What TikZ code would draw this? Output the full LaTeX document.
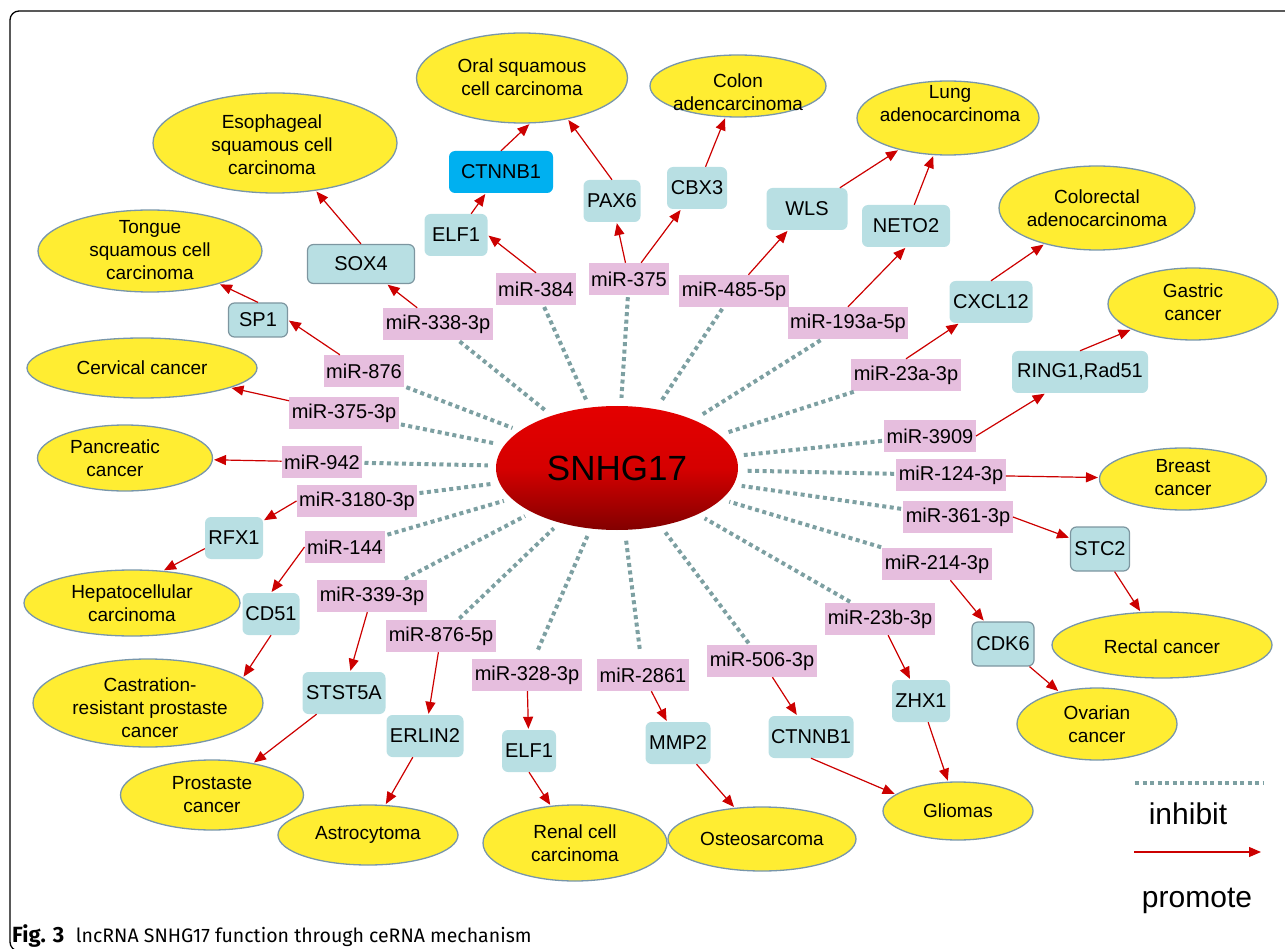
\documentclass[tikz,border=0pt]{standalone}
\usepackage{fontspec}
\setmainfont{Liberation Sans}
\newfontfamily\capfont{Fira Sans}
\usetikzlibrary{shapes.geometric,arrows.meta}
\definecolor{yellc}{RGB}{255,237,50}
\definecolor{ellb}{RGB}{120,150,170}
\definecolor{bluec}{RGB}{184,223,227}
\definecolor{brightb}{RGB}{0,176,240}
\definecolor{pinkc}{RGB}{230,190,222}
\definecolor{dotc}{RGB}{125,160,162}
\definecolor{redc}{RGB}{204,0,0}
\definecolor{gbord}{RGB}{125,150,160}
\definecolor{snhgtop}{RGB}{228,0,0}
\definecolor{snhgbot}{RGB}{130,0,0}
\begin{document}
\begin{tikzpicture}[x=1pt,y=-1pt,
 yell/.style={ellipse, fill=yellc, draw=ellb, line width=1.3pt, inner sep=0pt},
 etext/.style={align=center, font=\fontsize{19}{23}\selectfont, inner sep=0pt},
 mir/.style={fill=pinkc, inner xsep=2.5pt, inner ysep=0pt, minimum height=32pt, font=\fontsize{20}{24}\selectfont},
 gene/.style={fill=bluec, rounded corners=6pt, inner sep=0pt, minimum height=42pt, font=\fontsize{20}{24}\selectfont},
 geneb/.style={gene, draw=gbord, line width=1.2pt},
 inhib/.style={draw=dotc, line width=4pt, dash pattern=on 4pt off 3.5pt, shorten >=8pt, shorten <=2pt},
 prom/.style={draw=redc, line width=1.2pt, -{Triangle[length=12pt,width=10pt]}, shorten >=1pt},
]
\useasboundingbox (0,0) rectangle (1285,949);
\begin{scope}
\clip (0,0) rectangle (1285,949);
\draw[line width=1.3pt, rounded corners=9pt] (10,11) rectangle (1300,951);
\end{scope}

% central node
\node[ellipse, minimum width=242pt, minimum height=124pt, inner sep=0pt,
  top color=snhgtop, bottom color=snhgbot, middle color=snhgtop!85!snhgbot,
  font=\fontsize{35}{40}\selectfont] (snhg) at (617,468) {SNHG17};

% yellow disease ellipses
\node[yell, minimum width=211pt, minimum height=90pt] (oral) at (522,78) {};
\node[etext] (oral-t) at (522,77) {Oral squamous\\cell carcinoma};
\node[yell, minimum width=176pt, minimum height=62pt] (colon) at (738,86) {};
\node[etext] (colon-t) at (738,92) {Colon\\adencarcinoma};
\node[yell, minimum width=182pt, minimum height=74pt] (lung) at (948,118) {};
\node[etext] (lung-t) at (950,104) {Lung\\adenocarcinoma};
\node[yell, minimum width=196pt, minimum height=84pt] (colrec) at (1097,208) {};
\node[etext] (colrec-t) at (1097,208) {Colorectal\\adenocarcinoma};
\node[yell, minimum width=244pt, minimum height=100pt] (esoph) at (275,143) {};
\node[etext] (esoph-t) at (272,145) {Esophageal\\squamous cell\\carcinoma};
\node[yell, minimum width=224pt, minimum height=82pt] (tongue) at (150,251) {};
\node[etext] (tongue-t) at (150,250) {Tongue\\squamous cell\\carcinoma};
\node[yell, minimum width=230pt, minimum height=60pt] (cerv) at (142,368) {};
\node[etext] (cerv-t) at (142,368) {Cervical cancer};
\node[yell, minimum width=175pt, minimum height=66pt] (panc) at (125,458) {};
\node[etext] (panc-t) at (115,458) {Pancreatic\\cancer};
\node[yell, minimum width=216pt, minimum height=66pt] (hepat) at (132,603) {};
\node[etext] (hepat-t) at (132,603) {Hepatocellular\\carcinoma};
\node[yell, minimum width=230pt, minimum height=88pt] (castr) at (148,703) {};
\node[etext] (castr-t) at (150,708) {Castration-\\resistant prostaste\\cancer};
\node[yell, minimum width=183pt, minimum height=70pt] (prost) at (212,795) {};
\node[etext] (prost-t) at (212,795) {Prostaste\\cancer};
\node[yell, minimum width=180pt, minimum height=60pt] (astro) at (368,835) {};
\node[etext] (astro-t) at (368,835) {Astrocytoma};
\node[yell, minimum width=184pt, minimum height=76pt] (renal) at (575,843) {};
\node[etext] (renal-t) at (575,843) {Renal cell\\carcinoma};
\node[yell, minimum width=188pt, minimum height=64pt] (osteo) at (762,839) {};
\node[etext] (osteo-t) at (762,839) {Osteosarcoma};
\node[yell, minimum width=150pt, minimum height=58pt] (gliom) at (958,811) {};
\node[etext] (gliom-t) at (958,811) {Gliomas};
\node[yell, minimum width=160pt, minimum height=72pt] (ovar) at (1097,724) {};
\node[etext] (ovar-t) at (1097,724) {Ovarian\\cancer};
\node[yell, minimum width=220pt, minimum height=66pt] (rect) at (1162,645) {};
\node[etext] (rect-t) at (1162,647) {Rectal cancer};
\node[yell, minimum width=167pt, minimum height=62pt] (breast) at (1183,479) {};
\node[etext] (breast-t) at (1183,478) {Breast\\cancer};
\node[yell, minimum width=170pt, minimum height=72pt] (gastric) at (1193,304) {};
\node[etext] (gastric-t) at (1193,302) {Gastric\\cancer};

% gene boxes
\node[gene, fill=brightb, minimum width=104pt] (ctA) at (501,172) {CTNNB1};
\node[gene, minimum width=63pt] (elfA) at (456,235) {ELF1};
\node[gene, minimum width=57pt] (pax6) at (612,201) {PAX6};
\node[gene, minimum width=60pt] (cbx3) at (697,188) {CBX3};
\node[gene, minimum width=81pt] (wls) at (807,209) {WLS};
\node[gene, minimum width=88pt] (neto2) at (906,226) {NETO2};
\node[geneb, minimum width=107pt, minimum height=39pt] (sox4) at (361,264) {SOX4};
\node[geneb, minimum width=59pt, minimum height=34pt] (sp1) at (258,320) {SP1};
\node[gene, minimum width=83pt] (cxcl12) at (991,302) {CXCL12};
\node[gene, minimum width=136pt] (ring1) at (1080,372) {RING1,Rad51};
\node[geneb, minimum width=59pt, minimum height=44pt] (stc2) at (1100,549) {STC2};
\node[geneb, minimum width=62pt, minimum height=44pt] (cdk6) at (1003,644) {CDK6};
\node[gene, minimum width=58pt] (zhx1) at (921,701) {ZHX1};
\node[gene, minimum width=85pt] (ctB) at (811,737) {CTNNB1};
\node[gene, minimum width=65pt] (mmp2) at (678,743) {MMP2};
\node[gene, minimum width=54pt] (elfB) at (529,751) {ELF1};
\node[gene, minimum width=77pt] (erlin2) at (425,736) {ERLIN2};
\node[gene, minimum width=83pt] (stst5a) at (344,693) {STST5A};
\node[gene, minimum width=57pt] (cd51) at (271,614) {CD51};
\node[gene, minimum width=58pt] (rfx1) at (234,538) {RFX1};

% miRNA boxes
\node[mir] (m384) at (536,289) {miR-384};
\node[mir] (m375) at (629,279) {miR-375};
\node[mir] (m485) at (734,291) {miR-485-5p};
\node[mir] (m193) at (848,323) {miR-193a-5p};
\node[mir] (m338) at (438,324) {miR-338-3p};
\node[mir] (m876) at (364,371) {miR-876};
\node[mir] (m23a) at (906,375) {miR-23a-3p};
\node[mir] (m3753p) at (344,413) {miR-375-3p};
\node[mir] (m3909) at (930,436) {miR-3909};
\node[mir] (m942) at (322,462) {miR-942};
\node[mir] (m124) at (951,475) {miR-124-3p};
\node[mir] (m3180) at (357,501) {miR-3180-3p};
\node[mir] (m361) at (958,517) {miR-361-3p};
\node[mir] (m144) at (345,547) {miR-144};
\node[mir] (m214) at (937,564) {miR-214-3p};
\node[mir] (m339) at (372,596) {miR-339-3p};
\node[mir] (m23b) at (880,619) {miR-23b-3p};
\node[mir] (m8765p) at (441,636) {miR-876-5p};
\node[mir] (m506) at (762,661) {miR-506-3p};
\node[mir] (m328) at (527,675) {miR-328-3p};
\node[mir] (m2861) at (643,675) {miR-2861};

% inhibition (dotted) lines
\foreach \m in {m384,m375,m485,m193,m338,m876,m23a,m3753p,m3909,m942,m124,m3180,m361,m144,m214,m339,m23b,m8765p,m506}
  \draw[inhib] (\m) -- (snhg);
\draw[inhib, shorten <=10pt] (m328) -- (snhg);
\draw[inhib, shorten <=10pt] (m2861) -- (snhg);

% promotion arrows
\draw[prom] (m384.north) -- (elfA.east);
\draw[prom] (elfA) -- (ctA);
\draw[prom] (ctA.north) -- (oral.-80);
\draw[prom] (pax6.north) -- (oral.-42);
\draw[prom] (m375) -- (pax6);
\draw[prom] (m375) -- (cbx3);
\draw[prom] (cbx3) -- (colon);
\draw[prom] (m485) -- (wls);
\draw[prom] (wls) -- (lung);
\draw[prom] (m193.north) -- (neto2.south);
\draw[prom] (neto2) -- (lung);
\draw[prom] (m23a.north) -- (cxcl12);
\draw[prom] (cxcl12.north) -- (colrec);
\draw[prom] (m3909.east) -- (ring1);
\draw[prom] (ring1.north) -- (gastric);
\draw[prom] (m124) -- (breast);
\draw[prom] (m361.east) -- (stc2.160);
\draw[prom] (stc2) -- (rect);
\draw[prom] (m214) -- (cdk6);
\draw[prom] (cdk6) -- (ovar);
\draw[prom] (m23b) -- (zhx1);
\draw[prom] (zhx1) -- (gliom);
\draw[prom] (m506) -- (ctB);
\draw[prom] (ctB.south) -- (gliom.165);
\draw[prom] (m2861) -- (mmp2);
\draw[prom] (mmp2) -- (osteo);
\draw[prom] (m328) -- (elfB);
\draw[prom] (elfB.south) -- (renal);
\draw[prom] (m8765p) -- (erlin2);
\draw[prom] (erlin2) -- (astro);
\draw[prom] (m339) -- (stst5a);
\draw[prom] (stst5a) -- (prost);
\draw[prom] (m144.west) -- (cd51.north);
\draw[prom] (cd51.south) -- (castr.15);
\draw[prom] (m3180.west) -- (rfx1);
\draw[prom] (rfx1.-160) -- (hepat.46);
\draw[prom] (m942) -- (panc);
\draw[prom] (m3753p) -- (cerv);
\draw[prom] (m876) -- (sp1.east);
\draw[prom] (sp1.north) -- (tongue);
\draw[prom] (m338) -- (sox4);
\draw[prom] (sox4.north) -- (esoph);

% legend
\coordinate (li1) at (1135,783);
\coordinate (li2) at (1263,783);
\draw[inhib, shorten >=0pt, shorten <=0pt, line width=3.5pt] (li1) -- (li2);
\node[anchor=base, font=\fontsize{30}{34}\selectfont, inner sep=0pt] (inhibt) at (1188,824) {inhibit};
\coordinate (lp1) at (1134,852);
\coordinate (lp2) at (1261,852);
\draw[prom, shorten >=0pt] (lp1) -- (lp2);
\node[anchor=base, font=\fontsize{30}{34}\selectfont, inner sep=0pt] (promt) at (1197,907) {promote};

% caption
\node[anchor=base west, inner sep=0pt, font=\capfont\fontsize{19.5}{22}\selectfont] (cap) at (12,942)
  {{\bfseries\fontsize{22}{24}\selectfont Fig. 3}\hspace{0.6em}lncRNA SNHG17 function through ceRNA mechanism};
\end{tikzpicture}
\end{document}
